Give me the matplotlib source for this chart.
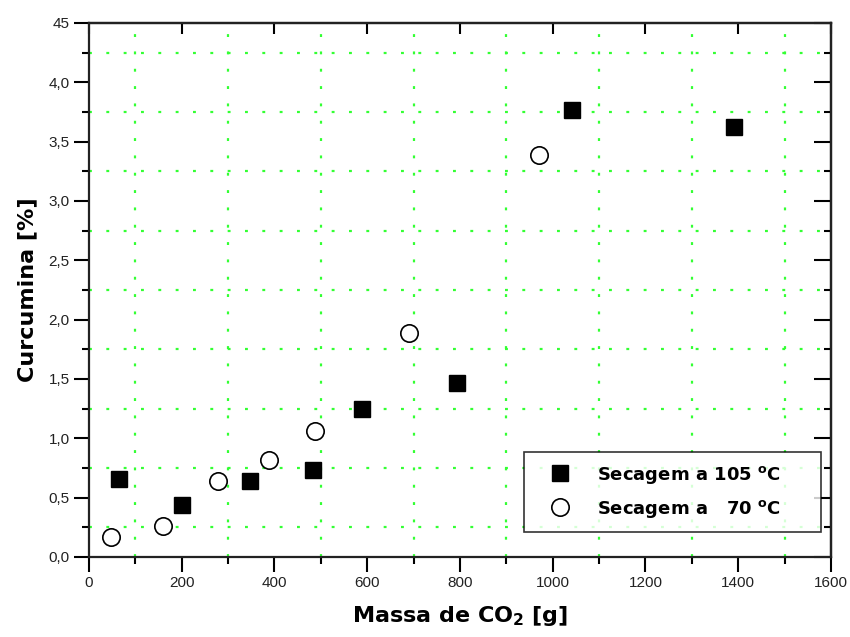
import numpy as np
import matplotlib
matplotlib.use('Agg')
from matplotlib import pyplot as plt
from matplotlib.ticker import MultipleLocator

# dados
massa_105 = [65, 200, 347, 483, 588, 793, 1041, 1391]
curc_105 = [0.66, 0.44, 0.64, 0.73, 1.25, 1.47, 3.77, 3.62]
massa_70 = [47, 159, 279, 389, 487, 690, 970]
curc_70 = [0.17, 0.26, 0.64, 0.82, 1.06, 1.89, 3.39]

x_ticks = [0, 200, 400, 600, 800, 1000, 1200, 1400, 1600]
y_ticks = [0.0, 0.5, 1.0, 1.5, 2.0, 2.5, 3.0, 3.5, 4.0, 4.5]
y_labels = ['0,0', '0,5', '1,0', '1,5', '2,0', '2,5', '3,0', '3,5', '4,0', '45']

plt.rcParams['font.family'] = ['Liberation Sans', 'DejaVu Sans']

fig = plt.figure(figsize=(8.5, 6.37), dpi=100)
ax = fig.add_axes([0.1047, 0.1256, 0.8729, 0.8383])

ax.plot(massa_105, curc_105, 's', color='black', markersize=12,
        label='Secagem a 105 $^{\\mathregular{o}}$C', zorder=3)
ax.plot(massa_70, curc_70, 'o', markerfacecolor='white', markeredgecolor='black',
        markeredgewidth=1.2, markersize=12.5,
        label='Secagem a   70 $^{\\mathregular{o}}$C', zorder=3)

ax.set_xlim(0, 1600)
ax.set_ylim(0, 4.5)
ax.set_xticks(x_ticks)
ax.set_xticklabels([str(v) for v in x_ticks])
ax.set_yticks(y_ticks)
ax.set_yticklabels(y_labels)
ax.xaxis.set_minor_locator(MultipleLocator(100))
ax.yaxis.set_minor_locator(MultipleLocator(0.25))

ax.tick_params(which='major', direction='out', length=11, width=1.5, labelsize=11,
               labelcolor='#222222', pad=3)
ax.tick_params(which='minor', direction='out', length=5, width=1.5)
for s in ax.spines.values():
    s.set_linewidth(1.6)
    s.set_color('#222222')

# grade verde pontilhada so nos minor ticks
ax.grid(False)
ax.grid(which='minor', color='#33ff33', linestyle=(0, (1.3, 6.5)), linewidth=1.6)

# ticks para dentro no topo e a direita
top = ax.secondary_xaxis('top')
top.set_xticks(x_ticks)
top.xaxis.set_minor_locator(MultipleLocator(100))
top.tick_params(which='major', direction='in', length=8, width=1.5, labeltop=False)
top.tick_params(which='minor', length=0)
right = ax.secondary_yaxis('right')
right.set_yticks(y_ticks)
right.yaxis.set_minor_locator(MultipleLocator(0.25))
right.tick_params(which='major', direction='in', length=12, width=1.5, labelright=False)
right.tick_params(which='minor', direction='in', length=5, width=1.5)
top.spines['top'].set_linewidth(1.6)
right.spines['right'].set_linewidth(1.6)

ax.set_xlabel('Massa de CO$_{\\mathregular{2}}$ [g]', fontsize=16, fontweight='bold',
              family='DejaVu Sans', labelpad=10)
ax.set_ylabel('Curcumina [%]', fontsize=16, fontweight='bold',
              family='DejaVu Sans', labelpad=8)

leg = ax.legend(loc='lower left', bbox_to_anchor=(0.586, 0.047, 0.4005, 0.146),
                mode='expand', frameon=True, fancybox=False, edgecolor='black',
                borderpad=0.67, handlelength=2.67, handletextpad=0.72,
                labelspacing=0.67, borderaxespad=0,
                prop={'weight': 'bold', 'size': 13, 'family': 'DejaVu Sans'})
leg.get_frame().set_linewidth(1.2)

plt.savefig('out.png', dpi=100)
